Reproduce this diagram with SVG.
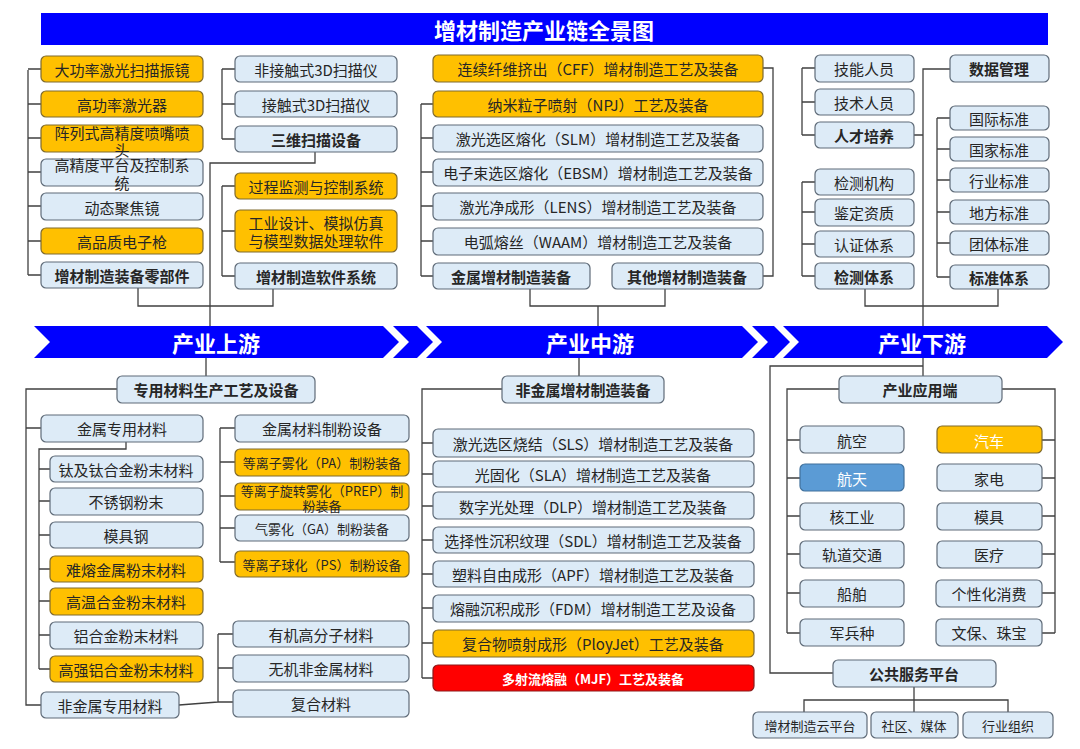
<svg xmlns="http://www.w3.org/2000/svg" width="1080" height="749" viewBox="0 0 1080 749">
<style>
.bx{fill:#DDEBF7;stroke:#5F6B78;stroke-width:1.2}
.or{fill:#FFC000;stroke:#7F6A2E;stroke-width:1.2}
.rd{fill:#FF0000;stroke:#8B1A1A;stroke-width:1.2}
.sb{fill:#5B9BD5;stroke:#41719C;stroke-width:1.2}
.t{font-family:"Noto Sans CJK SC","Noto Sans",sans-serif;font-size:15px;fill:#262626;text-anchor:middle;dominant-baseline:central}
.s{font-size:13px}
.bd{font-weight:bold}
.w{fill:#FFFFFF}
.ln{stroke:#404040;stroke-width:1.3;fill:none}
.band{fill:#0000FF}
.hd{font-family:"Noto Sans CJK SC","Noto Sans",sans-serif;font-size:22px;font-weight:bold;fill:#FFFFFF;text-anchor:middle;dominant-baseline:central}
</style>
<rect width="1080" height="749" fill="#FFFFFF"/>

<g id="connectors">
<!-- top-left column bracket -->
<path class="ln" d="M28 70V275M28 69H41M28 104H41M28 138H41M28 172H41M28 206H41M28 241H41M28 275H41"/>
<!-- scanning bracket -->
<path class="ln" d="M222 69V139M222 69H235M222 104H235M222 139H235"/>
<!-- software bracket -->
<path class="ln" d="M222 186V276M222 186H235M222 231H235M222 276H235"/>
<!-- upstream joins -->
<path class="ln" d="M315 152V163H210V326M138 288V306H273V289"/>
<!-- middle top brackets -->
<path class="ln" d="M421 104V276M421 104H433M421 138H433M421 172H433M421 206H433M421 241H433M421 276H433"/>
<path class="ln" d="M763 68H773V276H763"/>
<path class="ln" d="M530 289V306H665V289M598 306V326"/>
<!-- right top brackets -->
<path class="ln" d="M802 68V135M802 68H815M802 102H815M802 135H815"/>
<path class="ln" d="M802 182V276M802 182H815M802 212H815M802 244H815M802 276H815"/>
<path class="ln" d="M937 118V277M937 118H950M937 149H950M937 180H950M937 212H950M937 243H950M937 277H950"/>
<path class="ln" d="M950 69H923V376M914 135H923M865 289V306H998V289"/>
<!-- bottom-left -->
<path class="ln" d="M206 358V376M117 389H26V705H41M26 428H41"/>
<path class="ln" d="M126 442V449H39V669M39 469H50M39 501H50M39 535H50M39 569H50M39 601H50M39 635H50M39 669H50"/>
<path class="ln" d="M220 428V562M220 428H235M220 462H235M220 496H235M220 528H235M220 562H235"/>
<path class="ln" d="M179 705L218 702M218 634V702M218 634H233M218 668H233M218 702H233"/>
<!-- bottom-middle -->
<path class="ln" d="M579 358V376M502 389H422V678M422 443H433M422 474H433M422 506H433M422 540H433M422 574H433M422 608H433M422 643H433M422 678H433"/>
<!-- bottom-right -->
<path class="ln" d="M923 366H770V673H833"/>
<path class="ln" d="M839 389H787V633M787 440H800M787 478H800M787 516H800M787 554H800M787 593H800M787 633H800"/>
<path class="ln" d="M1002 389H1055V633M1055 440H1042M1055 478H1042M1055 516H1042M1055 554H1042M1055 593H1042M1055 633H1042"/>
<path class="ln" d="M914 687V700M804 712V700H1008V712M914 700V712"/>
</g>

<g id="title">
<rect x="41" y="13" width="1007" height="32" fill="#0000FF"/>
<text class="hd" x="544" y="29">增材制造产业链全景图</text>
</g>

<g id="bands">
<polygon class="band" points="34,326 383,326 399,342 383,358 34,358 50,342"/>
<polygon class="band" points="393,326 417,326 433,342 417,358 393,358 409,342"/>
<polygon class="band" points="426,326 742,326 758,342 742,358 426,358 442,342"/>
<polygon class="band" points="752,326 774,326 790,342 774,358 752,358 768,342"/>
<polygon class="band" points="783,326 1047,326 1063,342 1047,358 783,358 799,342"/>
<text class="hd" x="216" y="342">产业上游</text>
<text class="hd" x="590" y="342">产业中游</text>
<text class="hd" x="922" y="342">产业下游</text>
</g>

<!-- top-left column -->
<g id="n1"><rect class="or" x="41" y="56" width="162" height="26" rx="5"/><text class="t" x="122" y="69">大功率激光扫描振镜</text></g>
<g id="n2"><rect class="or" x="41" y="91" width="162" height="26" rx="5"/><text class="t" x="122" y="104">高功率激光器</text></g>
<g id="n3"><rect class="or" x="41" y="125" width="162" height="27" rx="5"/><text class="t" x="122" y="132">阵列式高精度喷嘴喷</text><text class="t" x="122" y="149">头</text></g>
<g id="n4"><rect class="bx" x="41" y="159" width="162" height="27" rx="5"/><text class="t" x="122" y="164">高精度平台及控制系</text><text class="t" x="122" y="182">统</text></g>
<g id="n5"><rect class="bx" x="41" y="193" width="162" height="27" rx="5"/><text class="t" x="122" y="207">动态聚焦镜</text></g>
<g id="n6"><rect class="or" x="41" y="228" width="162" height="26" rx="5"/><text class="t" x="122" y="241">高品质电子枪</text></g>
<g id="n7"><rect class="bx" x="41" y="262" width="162" height="26" rx="5"/><text class="t bd" x="122" y="275">增材制造装备零部件</text></g>

<!-- second column -->
<g id="s1"><rect class="bx" x="235" y="56" width="162" height="26" rx="5"/><text class="t" x="316" y="69">非接触式3D扫描仪</text></g>
<g id="s2"><rect class="bx" x="235" y="91" width="162" height="26" rx="5"/><text class="t" x="316" y="104">接触式3D扫描仪</text></g>
<g id="s3"><rect class="bx" x="235" y="126" width="162" height="26" rx="5"/><text class="t bd" x="316" y="139">三维扫描设备</text></g>
<g id="s4"><rect class="or" x="235" y="173" width="162" height="26" rx="5"/><text class="t" x="316" y="186">过程监测与控制系统</text></g>
<g id="s5"><rect class="or" x="235" y="210" width="162" height="42" rx="5"/><text class="t" x="316" y="222">工业设计、模拟仿真</text><text class="t" x="316" y="240">与模型数据处理软件</text></g>
<g id="s6"><rect class="bx" x="235" y="263" width="162" height="26" rx="5"/><text class="t bd" x="316" y="276">增材制造软件系统</text></g>

<!-- middle top -->
<g id="m1"><rect class="or" x="433" y="55" width="330" height="27" rx="5"/><text class="t" x="598" y="68">连续纤维挤出（CFF）增材制造工艺及装备</text></g>
<g id="m2"><rect class="or" x="433" y="91" width="330" height="26" rx="5"/><text class="t" x="598" y="104">纳米粒子喷射（NPJ）工艺及装备</text></g>
<g id="m3"><rect class="bx" x="433" y="125" width="330" height="27" rx="5"/><text class="t" x="598" y="138">激光选区熔化（SLM）增材制造工艺及装备</text></g>
<g id="m4"><rect class="bx" x="433" y="159" width="330" height="27" rx="5"/><text class="t" x="598" y="172">电子束选区熔化（EBSM）增材制造工艺及装备</text></g>
<g id="m5"><rect class="bx" x="433" y="193" width="330" height="27" rx="5"/><text class="t" x="598" y="206">激光净成形（LENS）增材制造工艺及装备</text></g>
<g id="m6"><rect class="bx" x="433" y="228" width="330" height="27" rx="5"/><text class="t" x="598" y="241">电弧熔丝（WAAM）增材制造工艺及装备</text></g>
<g id="m7"><rect class="bx" x="433" y="263" width="157" height="26" rx="5"/><text class="t bd" x="511" y="276">金属增材制造装备</text></g>
<g id="m8"><rect class="bx" x="612" y="263" width="151" height="26" rx="5"/><text class="t bd" x="687" y="276">其他增材制造装备</text></g>

<!-- right top -->
<g id="r1"><rect class="bx" x="815" y="55" width="99" height="27" rx="5"/><text class="t" x="864" y="68">技能人员</text></g>
<g id="r2"><rect class="bx" x="815" y="89" width="99" height="26" rx="5"/><text class="t" x="864" y="102">技术人员</text></g>
<g id="r3"><rect class="bx" x="815" y="122" width="99" height="26" rx="5"/><text class="t bd" x="864" y="135">人才培养</text></g>
<g id="r4"><rect class="bx" x="815" y="169" width="99" height="26" rx="5"/><text class="t" x="864" y="182">检测机构</text></g>
<g id="r5"><rect class="bx" x="815" y="199" width="99" height="27" rx="5"/><text class="t" x="864" y="212">鉴定资质</text></g>
<g id="r6"><rect class="bx" x="815" y="231" width="99" height="26" rx="5"/><text class="t" x="864" y="244">认证体系</text></g>
<g id="r7"><rect class="bx" x="815" y="263" width="99" height="26" rx="5"/><text class="t bd" x="864" y="276">检测体系</text></g>
<g id="r8"><rect class="bx" x="950" y="55" width="99" height="27" rx="5"/><text class="t bd" x="999" y="68">数据管理</text></g>
<g id="r9"><rect class="bx" x="950" y="106" width="99" height="24" rx="5"/><text class="t" x="999" y="118">国际标准</text></g>
<g id="r10"><rect class="bx" x="950" y="137" width="99" height="24" rx="5"/><text class="t" x="999" y="149">国家标准</text></g>
<g id="r11"><rect class="bx" x="950" y="168" width="99" height="24" rx="5"/><text class="t" x="999" y="180">行业标准</text></g>
<g id="r12"><rect class="bx" x="950" y="200" width="99" height="24" rx="5"/><text class="t" x="999" y="212">地方标准</text></g>
<g id="r13"><rect class="bx" x="950" y="231" width="99" height="24" rx="5"/><text class="t" x="999" y="243">团体标准</text></g>
<g id="r14"><rect class="bx" x="950" y="265" width="99" height="24" rx="5"/><text class="t bd" x="999" y="277">标准体系</text></g>

<!-- bottom-left -->
<g id="b1"><rect class="bx" x="117" y="376" width="198" height="27" rx="5"/><text class="t bd" x="216" y="389">专用材料生产工艺及设备</text></g>
<g id="b2"><rect class="bx" x="41" y="415" width="162" height="27" rx="5"/><text class="t" x="122" y="428">金属专用材料</text></g>
<g id="b3"><rect class="bx" x="50" y="456" width="153" height="26" rx="5"/><text class="t" x="126" y="469">钛及钛合金粉末材料</text></g>
<g id="b4"><rect class="bx" x="50" y="488" width="153" height="27" rx="5"/><text class="t" x="126" y="501">不锈钢粉末</text></g>
<g id="b5"><rect class="bx" x="50" y="522" width="153" height="26" rx="5"/><text class="t" x="126" y="535">模具钢</text></g>
<g id="b6"><rect class="or" x="50" y="556" width="153" height="26" rx="5"/><text class="t" x="126" y="569">难熔金属粉末材料</text></g>
<g id="b7"><rect class="or" x="50" y="588" width="153" height="27" rx="5"/><text class="t" x="126" y="601">高温合金粉末材料</text></g>
<g id="b8"><rect class="bx" x="50" y="622" width="153" height="27" rx="5"/><text class="t" x="126" y="635">铝合金粉末材料</text></g>
<g id="b9"><rect class="or" x="50" y="656" width="153" height="26" rx="5"/><text class="t" x="126" y="669">高强铝合金粉末材料</text></g>
<g id="b10"><rect class="bx" x="41" y="692" width="138" height="26" rx="5"/><text class="t" x="110" y="705">非金属专用材料</text></g>
<g id="c1"><rect class="bx" x="235" y="415" width="174" height="27" rx="5"/><text class="t" x="322" y="428">金属材料制粉设备</text></g>
<g id="c2"><rect class="or" x="235" y="449" width="174" height="27" rx="5"/><text class="t s" x="322" y="462">等离子雾化（PA）制粉装备</text></g>
<g id="c3"><rect class="or" x="235" y="483" width="174" height="27" rx="5"/><text class="t s" x="322" y="490">等离子旋转雾化（PREP）制</text><text class="t s" x="322" y="505">粉装备</text></g>
<g id="c4"><rect class="bx" x="235" y="515" width="174" height="26" rx="5"/><text class="t s" x="322" y="528">气雾化（GA）制粉装备</text></g>
<g id="c5"><rect class="or" x="235" y="551" width="174" height="26" rx="5"/><text class="t s" x="322" y="564">等离子球化（PS）制粉设备</text></g>
<g id="c6"><rect class="bx" x="233" y="621" width="176" height="26" rx="5"/><text class="t" x="321" y="634">有机高分子材料</text></g>
<g id="c7"><rect class="bx" x="233" y="655" width="176" height="27" rx="5"/><text class="t" x="321" y="668">无机非金属材料</text></g>
<g id="c8"><rect class="bx" x="233" y="690" width="176" height="27" rx="5"/><text class="t" x="321" y="703">复合材料</text></g>

<!-- bottom-middle -->
<g id="d0"><rect class="bx" x="502" y="376" width="162" height="27" rx="5"/><text class="t bd" x="583" y="389">非金属增材制造装备</text></g>
<g id="d1"><rect class="bx" x="433" y="429" width="321" height="28" rx="5"/><text class="t" x="593" y="443">激光选区烧结（SLS）增材制造工艺及装备</text></g>
<g id="d2"><rect class="bx" x="433" y="461" width="321" height="26" rx="5"/><text class="t" x="593" y="474">光固化（SLA）增材制造工艺及装备</text></g>
<g id="d3"><rect class="bx" x="433" y="492" width="321" height="27" rx="5"/><text class="t" x="593" y="506">数字光处理（DLP）增材制造工艺及装备</text></g>
<g id="d4"><rect class="bx" x="433" y="527" width="321" height="26" rx="5"/><text class="t" x="593" y="540">选择性沉积纹理（SDL）增材制造工艺及装备</text></g>
<g id="d5"><rect class="bx" x="433" y="561" width="321" height="26" rx="5"/><text class="t" x="593" y="574">塑料自由成形（APF）增材制造工艺及装备</text></g>
<g id="d6"><rect class="bx" x="433" y="595" width="321" height="27" rx="5"/><text class="t" x="593" y="608">熔融沉积成形（FDM）增材制造工艺及设备</text></g>
<g id="d7"><rect class="or" x="433" y="630" width="321" height="27" rx="5"/><text class="t" x="593" y="643">复合物喷射成形（PloyJet）工艺及装备</text></g>
<g id="d8"><rect class="rd" x="433" y="665" width="321" height="26" rx="5"/><text class="t s bd w" x="593" y="678">多射流熔融（MJF）工艺及装备</text></g>

<!-- bottom-right -->
<g id="e0"><rect class="bx" x="839" y="376" width="163" height="27" rx="5"/><text class="t bd" x="920" y="389">产业应用端</text></g>
<g id="e1"><rect class="bx" x="800" y="426" width="104" height="27" rx="5"/><text class="t" x="852" y="440">航空</text></g>
<g id="e2"><rect class="sb" x="800" y="464" width="104" height="27" rx="5"/><text class="t w" x="852" y="478">航天</text></g>
<g id="e3"><rect class="bx" x="800" y="503" width="104" height="27" rx="5"/><text class="t" x="852" y="516">核工业</text></g>
<g id="e4"><rect class="bx" x="800" y="541" width="104" height="27" rx="5"/><text class="t" x="852" y="554">轨道交通</text></g>
<g id="e5"><rect class="bx" x="800" y="580" width="104" height="27" rx="5"/><text class="t" x="852" y="593">船舶</text></g>
<g id="e6"><rect class="bx" x="800" y="619" width="104" height="27" rx="5"/><text class="t" x="852" y="632">军兵种</text></g>
<g id="e7"><rect class="or" x="937" y="426" width="105" height="27" rx="5"/><text class="t w" x="989" y="440">汽车</text></g>
<g id="e8"><rect class="bx" x="937" y="464" width="105" height="27" rx="5"/><text class="t" x="989" y="478">家电</text></g>
<g id="e9"><rect class="bx" x="937" y="503" width="105" height="27" rx="5"/><text class="t" x="989" y="516">模具</text></g>
<g id="e10"><rect class="bx" x="937" y="541" width="105" height="27" rx="5"/><text class="t" x="989" y="554">医疗</text></g>
<g id="e11"><rect class="bx" x="936" y="580" width="106" height="27" rx="5"/><text class="t" x="989" y="593">个性化消费</text></g>
<g id="e12"><rect class="bx" x="936" y="619" width="106" height="27" rx="5"/><text class="t" x="989" y="632">文保、珠宝</text></g>
<g id="f0"><rect class="bx" x="833" y="660" width="163" height="27" rx="5"/><text class="t bd" x="914" y="673">公共服务平台</text></g>
<g id="f1"><rect class="bx" x="753" y="712" width="114" height="26" rx="5"/><text class="t s" x="810" y="725">增材制造云平台</text></g>
<g id="f2"><rect class="bx" x="871" y="712" width="87" height="26" rx="5"/><text class="t s" x="914" y="725">社区、媒体</text></g>
<g id="f3"><rect class="bx" x="963" y="712" width="90" height="26" rx="5"/><text class="t s" x="1008" y="725">行业组织</text></g>
</svg>
